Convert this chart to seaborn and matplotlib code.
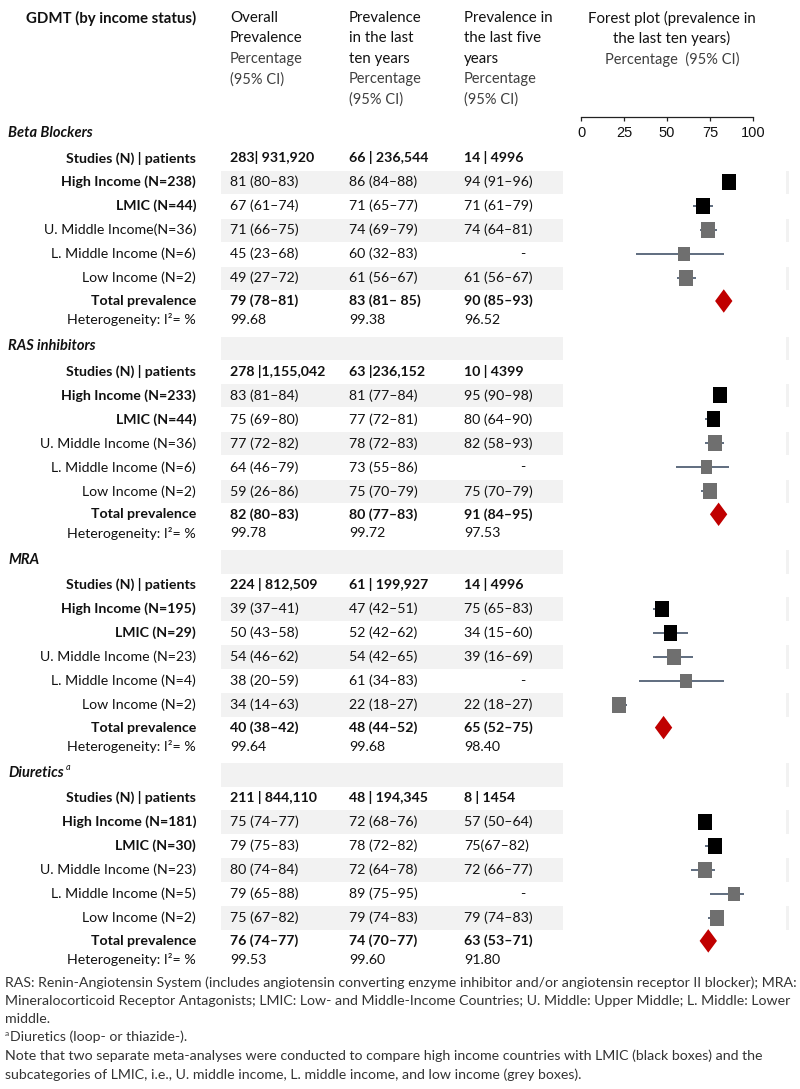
"""Prevalence of GDMT by income status: table + forest plot (last ten years)."""

import numpy as np
import pandas as pd
import matplotlib
matplotlib.use("Agg")
import matplotlib.pyplot as plt
from matplotlib.path import Path
from matplotlib.patches import Rectangle
import seaborn as sns


# ── Data ──────────────────────────────────────────────────────────────────────
sections = ["Beta Blockers", "RAS inhibitors", "MRA", "Diuretics"]

studies_overall = ["283| 931,920", "278 |1,155,042", "224 | 812,509", "211 | 844,110"]
studies_ten     = ["66 | 236,544", "63 |236,152", "61 | 199,927", "48 | 194,345"]
studies_five    = ["14 | 4996", "10 | 4399", "14 | 4996", "8 | 1454"]

group_labels = [
    ["High Income (N=238)", "LMIC (N=44)", "U. Middle Income(N=36)", "L. Middle Income (N=6)", "Low Income (N=2)"],
    ["High Income (N=233)", "LMIC (N=44)", "U. Middle Income (N=36)", "L. Middle Income (N=6)", "Low Income (N=2)"],
    ["High Income (N=195)", "LMIC (N=29)", "U. Middle Income (N=23)", "L. Middle Income (N=4)", "Low Income (N=2)"],
    ["High Income (N=181)", "LMIC (N=30)", "U. Middle Income (N=23)", "L. Middle Income (N=5)", "Low Income (N=2)"],
]
group_kind = ["hic", "hic", "sub", "sub", "sub"]   # black boxes vs grey boxes

# rows: 5 groups, total prevalence, heterogeneity
overall_txt = [
    ["81 (80–83)", "67 (61–74)", "71 (66–75)", "45 (23–68)", "49 (27–72)", "79 (78–81)", "99.68"],
    ["83 (81–84)", "75 (69–80)", "77 (72–82)", "64 (46–79)", "59 (26–86)", "82 (80–83)", "99.78"],
    ["39 (37–41)", "50 (43–58)", "54 (46–62)", "38 (20–59)", "34 (14–63)", "40 (38–42)", "99.64"],
    ["75 (74–77)", "79 (75–83)", "80 (74–84)", "79 (65–88)", "75 (67–82)", "76 (74–77)", "99.53"],
]
ten_txt = [
    ["86 (84–88)", "71 (65–77)", "74 (69–79)", "60 (32–83)", "61 (56–67)", "83 (81– 85)", "99.38"],
    ["81 (77–84)", "77 (72–81)", "78 (72–83)", "73 (55–86)", "75 (70–79)", "80 (77–83)", "99.72"],
    ["47 (42–51)", "52 (42–62)", "54 (42–65)", "61 (34–83)", "22 (18–27)", "48 (44–52)", "99.68"],
    ["72 (68–76)", "78 (72–82)", "72 (64–78)", "89 (75–95)", "79 (74–83)", "74 (70–77)", "99.60"],
]
five_txt = [
    ["94 (91–96)", "71 (61–79)", "74 (64–81)", "-", "61 (56–67)", "90 (85–93)", "96.52"],
    ["95 (90–98)", "80 (64–90)", "82 (58–93)", "-", "75 (70–79)", "91 (84–95)", "97.53"],
    ["75 (65–83)", "34 (15–60)", "39 (16–69)", "-", "22 (18–27)", "65 (52–75)", "98.40"],
    ["57 (50–64)", "75(67–82)", "72 (66–77)", "-", "79 (74–83)", "63 (53–71)", "91.80"],
]

# forest plot values: prevalence in the last ten years (groups, then total)
ten_est = [[86, 71, 74, 60, 61, 83], [81, 77, 78, 73, 75, 80],
           [47, 52, 54, 61, 22, 48], [72, 78, 72, 89, 79, 74]]
ten_lo  = [[84, 65, 69, 32, 56, 81], [77, 72, 72, 55, 70, 77],
           [42, 42, 42, 34, 18, 44], [68, 72, 64, 75, 74, 70]]
ten_hi  = [[88, 77, 79, 83, 67, 85], [84, 81, 83, 86, 79, 83],
           [51, 62, 65, 83, 27, 52], [76, 82, 78, 95, 83, 77]]

x_ticks = [0, 25, 50, 75, 100]

footnotes = [
    "RAS: Renin-Angiotensin System (includes angiotensin converting enzyme inhibitor and/or angiotensin receptor II blocker); MRA:",
    "Mineralocorticoid Receptor Antagonists; LMIC: Low- and Middle-Income Countries; U. Middle: Upper Middle; L. Middle: Lower",
    "middle.",
    "Diuretics (loop- or thiazide-).",
    "Note that two separate meta-analyses were conducted to compare high income countries with LMIC (black boxes) and the",
    "subcategories of LMIC, i.e., U. middle income, L. middle income, and low income (grey boxes).",
]


# ── Style / layout (pixel coordinates) ───────────────────────────────────────
sns.set_theme(style="white")
plt.rcParams["font.family"] = ["Lato", "DejaVu Sans"]
NARROW = ["Liberation Sans", "DejaVu Sans"]

W, H = 800, 1089
FS = 10.2
TXT = "#111111"
SUB = "#3f3f3f"
BAND = "#f2f2f2"
LINE = "#44546a"
GREY_BOX = "#6f6f6f"
RED = "#c00000"

SEC_Y0, SEC_STEP = 133, 213.3
ROW_OFF = [25, 49, 73, 97, 121, 145, 168, 187]   # studies, 5 groups, total, het
LABEL_X, COL_X = 196, [230, 349, 464]
FX0, FX1 = 562, 786          # forest axes extent
F0, F100 = 581, 753          # pixel positions of 0 and 100


def row_y(s, r):
    return SEC_Y0 + s * SEC_STEP + ROW_OFF[r]


fig = plt.figure(figsize=(W / 100, H / 100), dpi=100)
ax = fig.add_axes([0, 0, 1, 1])
ax.set_xlim(0, W); ax.set_ylim(H, 0); ax.axis("off")

# ── Shaded bands ──────────────────────────────────────────────────────────────
band_rows = []
for s in range(len(sections)):
    if s > 0:
        band_rows.append(SEC_Y0 + s * SEC_STEP + 2)
    band_rows += [row_y(s, 1), row_y(s, 3), row_y(s, 5)]
for y in band_rows:
    ax.add_patch(Rectangle((221, y - 11.5), 563 - 221, 23.5, color=BAND, lw=0, zorder=0))
    ax.add_patch(Rectangle((785.5, y - 11.5), 3, 23.5, color=BAND, lw=0, zorder=0))

# ── Header ────────────────────────────────────────────────────────────────────
ax.text(26, 18, "GDMT (by income status)", fontsize=10.8, fontweight="bold",
        color=TXT, va="center")
headers = [["Overall", "Prevalence"], ["Prevalence", "in the last", "ten years"],
           ["Prevalence in", "the last five", "years"]]
LH = 20.5
for cx, lines in zip(COL_X, headers):
    for i, t in enumerate(lines):
        ax.text(cx, 18 + i * LH, t, fontsize=10.8, color=TXT, va="center")
    for j, t in enumerate(["Percentage", "(95% CI)"]):
        ax.text(cx, 18 + (len(lines) + j) * LH, t, fontsize=10.5, color=SUB, va="center")
for i, t in enumerate(["Forest plot (prevalence in", "the last ten years)"]):
    ax.text(672, 18 + i * LH, t, fontsize=10.8, color=TXT, va="center", ha="center")
ax.text(672, 18 + 2 * LH, "Percentage  (95% CI)", fontsize=10.5, color=SUB,
        va="center", ha="center")

# ── Table body ────────────────────────────────────────────────────────────────
for s, name in enumerate(sections):
    y0 = SEC_Y0 + s * SEC_STEP
    ax.text(8, y0, name, fontsize=FS + 0.3, fontweight="bold", style="italic",
            color=TXT, va="center")
    if name == "Diuretics":
        ax.text(66, y0 - 5, "a", fontsize=6.5, style="italic", color=TXT, va="center")

    ax.text(LABEL_X, row_y(s, 0), "Studies (N) | patients", fontsize=FS,
            fontweight="bold", ha="right", va="center", color=TXT)
    for cx, v in zip(COL_X, [studies_overall[s], studies_ten[s], studies_five[s]]):
        ax.text(cx, row_y(s, 0), v, fontsize=FS, fontweight="bold", va="center", color=TXT)

    labels = group_labels[s] + ["Total prevalence", "Heterogeneity: I²= %"]
    for r, lab in enumerate(labels):
        y = row_y(s, r + 1)
        bold = (r < 5 and group_kind[r] == "hic") or r == 5
        ax.text(LABEL_X, y, lab, fontsize=FS, fontweight="bold" if bold else "normal",
                ha="right", va="center", color=TXT)
        for cx, col in zip(COL_X, [overall_txt, ten_txt, five_txt]):
            v = col[s][r]
            if v == "-":
                ax.text(cx + 59, y, v, fontsize=FS, va="center", ha="center", color=TXT)
            else:
                ax.text(cx, y, v, fontsize=FS, va="center", color=TXT,
                        fontweight="bold" if r == 5 else "normal")

# ── Forest plot ───────────────────────────────────────────────────────────────
px = (F100 - F0) / 100.0
xlim = ((FX0 - F0) / px, (FX1 - F0) / px)
F_TOP, F_BOT = 110, 975
fax = fig.add_axes([FX0 / W, 1 - F_BOT / H, (FX1 - FX0) / W, (F_BOT - F_TOP) / H])
fax.set_xlim(*xlim); fax.set_ylim(F_BOT, F_TOP)
fax.axis("off")

recs = []
for s in range(len(sections)):
    for r in range(6):
        recs.append(dict(
            y=row_y(s, r + 1), est=ten_est[s][r], lo=ten_lo[s][r], hi=ten_hi[s][r],
            kind=group_kind[r] if r < 5 else "total",
            box="small" if r == 3 else "main"))
df = pd.DataFrame(recs)
boxes = df[df.kind != "total"]
totals = df[df.kind == "total"]

fax.hlines(boxes.y, boxes.lo, boxes.hi, color=LINE, lw=1.2, zorder=1)

rect = Path([(-0.85, -1), (0.85, -1), (0.85, 1), (-0.85, 1), (-0.85, -1)],
            [Path.MOVETO, Path.LINETO, Path.LINETO, Path.LINETO, Path.CLOSEPOLY])
diamond = Path([(0, 1), (0.74, 0), (0, -1), (-0.74, 0), (0, 1)],
               [Path.MOVETO, Path.LINETO, Path.LINETO, Path.LINETO, Path.CLOSEPOLY])

sns.scatterplot(data=boxes, x="est", y="y", hue="kind", size="box",
                palette={"hic": "black", "sub": GREY_BOX},
                sizes={"main": 135, "small": 100}, marker=rect,
                edgecolor="none", legend=False, ax=fax, zorder=2)
sns.scatterplot(data=totals, x="est", y="y", color=RED, marker=diamond, s=285,
                edgecolor="none", legend=False, ax=fax, zorder=2)
fax.set_xlim(*xlim); fax.set_ylim(F_BOT, F_TOP)

# axis strip (0–100) above the forest
AX_Y = 117
xax = fig.add_axes([FX0 / W, 1 - AX_Y / H, (FX1 - FX0) / W, 0.0005])
xax.set_xlim(*xlim)
xax.set_facecolor("none")
for side in ["top", "left", "right"]:
    xax.spines[side].set_visible(False)
xax.spines["bottom"].set_bounds(0, 100)
xax.spines["bottom"].set_color("#222222")
xax.spines["bottom"].set_linewidth(0.9)
xax.set_yticks([])
xax.set_xticks(x_ticks)
xax.set_xticklabels([str(v) for v in x_ticks], family=NARROW, fontsize=10.5, color="#111111")
xax.tick_params(axis="x", bottom=True, length=3, width=0.9, color="#222222",
                pad=3.5, direction="out")
xax.grid(False)

# ── Footnotes ─────────────────────────────────────────────────────────────────
FN_Y = [983, 1001, 1019, 1037, 1056, 1075]
for y, t in zip(FN_Y, footnotes):
    x = 5
    if t.startswith("Diuretics"):
        ax.text(5, y - 4, "a", fontsize=6, color="#333333", va="center")
        x = 10
    ax.text(x, y, t, fontsize=10.2, color="#333333", va="center")

fig.savefig("out.png", dpi=100)
plt.close(fig)
